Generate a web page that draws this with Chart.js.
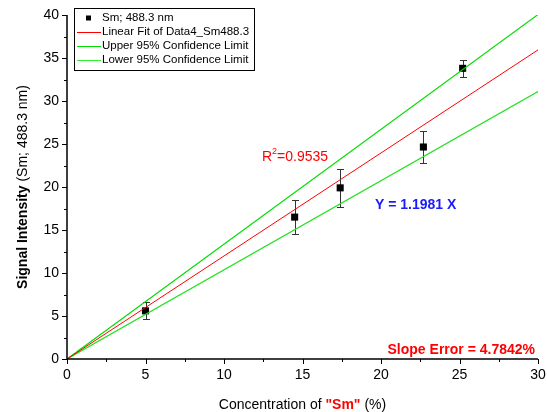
<!DOCTYPE html>
<html>
<head>
<meta charset="utf-8">
<script src="https://cdn.jsdelivr.net/npm/chart.js@4/dist/chart.umd.min.js"></script>
<style>
  html, body { margin: 0; padding: 0; background: #fff; }
  #wrap { width: 547px; height: 412px; }
</style>
</head>
<body>
<div id="wrap"><canvas id="chart" width="547" height="412"></canvas></div>
<script>
// ==========================
// DATA
// ==========================

const concX = [5.0, 14.5, 17.4, 22.7, 25.2];
const signalY = [5.6, 16.5, 19.9, 24.65, 33.8];
const signalErr = [1.0, 2.0, 2.2, 1.9, 1.0];

const lineX = [0, 30];
const fitY = [0, 35.94];
const upperY = [0, 40.05];
const lowerY = [0, 31.1];

const xTicks = [0, 5, 10, 15, 20, 25, 30];
const yTicks = [0, 5, 10, 15, 20, 25, 30, 35, 40];

const legendLabels = [
  "Sm; 488.3 nm",
  "Linear Fit of Data4_Sm488.3",
  "Upper 95% Confidence Limit",
  "Lower 95% Confidence Limit"
];

const FONT = "'Liberation Sans', Arial, sans-serif";

function pairs(xs, ys){
  const out = [];
  for(let i = 0; i < xs.length; i++){
    out.push({ x: xs[i], y: ys[i] });
  }
  return out;
}

// ==========================
// DRAWING PLUGIN
// error bars, minor ticks, titles, notes, legend
// ==========================

const extras = {
  id: "extras",
  beforeDatasetsDraw(chart){
    const ctx = chart.ctx;
    const xs = chart.scales.x, ys = chart.scales.y;
    ctx.save();
    ctx.strokeStyle = "#333";
    ctx.lineWidth = 1;
    for(let i = 0; i < concX.length; i++){
      const px = Math.round(xs.getPixelForValue(concX[i])) + 0.5;
      const top = Math.round(ys.getPixelForValue(signalY[i] + signalErr[i])) + 0.5;
      const bot = Math.round(ys.getPixelForValue(signalY[i] - signalErr[i])) + 0.5;
      ctx.beginPath();
      ctx.moveTo(px, top); ctx.lineTo(px, bot);
      ctx.moveTo(px - 3.5, top); ctx.lineTo(px + 3.5, top);
      ctx.moveTo(px - 3.5, bot); ctx.lineTo(px + 3.5, bot);
      ctx.stroke();
    }
    ctx.restore();
  },
  afterDraw(chart){
    const ctx = chart.ctx;
    const xs = chart.scales.x, ys = chart.scales.y;
    const area = chart.chartArea;
    ctx.save();

    // axes lines + ticks
    ctx.strokeStyle = "#000";
    ctx.lineWidth = 1.5;
    ctx.beginPath();
    ctx.moveTo(area.left, area.top);
    ctx.lineTo(area.left, area.bottom);
    ctx.lineTo(area.right, area.bottom);
    ctx.stroke();
    ctx.lineWidth = 1;
    for(let v = 0; v <= 30; v += 2.5){
      const px = Math.round(xs.getPixelForValue(v)) + 0.5;
      const len = (v % 5 === 0) ? 5 : 3;
      ctx.beginPath();
      ctx.moveTo(px, area.bottom); ctx.lineTo(px, area.bottom + len);
      ctx.stroke();
    }
    for(let v = 0; v <= 40; v += 2.5){
      const py = Math.round(ys.getPixelForValue(v)) + 0.5;
      const len = (v % 5 === 0) ? 5 : 3;
      ctx.beginPath();
      ctx.moveTo(area.left, py); ctx.lineTo(area.left - len, py);
      ctx.stroke();
    }

    // tick labels
    ctx.fillStyle = "#000";
    ctx.font = "14px " + FONT;
    ctx.textAlign = "center";
    ctx.textBaseline = "top";
    xTicks.forEach(function(v){
      ctx.fillText(String(v), xs.getPixelForValue(v), area.bottom + 9);
    });
    ctx.textAlign = "right";
    ctx.textBaseline = "middle";
    yTicks.forEach(function(v){
      ctx.fillText(String(v), area.left - 8, ys.getPixelForValue(v));
    });

    // x title: Concentration of "Sm" (%)
    const p1 = "Concentration of ", p2 = "\"Sm\"", p3 = " (%)";
    ctx.textBaseline = "alphabetic";
    ctx.textAlign = "left";
    ctx.font = "14px " + FONT;
    const w1 = ctx.measureText(p1).width, w3 = ctx.measureText(p3).width;
    ctx.font = "bold 14px " + FONT;
    const w2 = ctx.measureText(p2).width;
    let tx = (area.left + area.right) / 2 - (w1 + w2 + w3) / 2;
    const ty = 409;
    ctx.font = "14px " + FONT; ctx.fillStyle = "#000";
    ctx.fillText(p1, tx, ty); tx += w1;
    ctx.font = "bold 14px " + FONT; ctx.fillStyle = "#ff0000";
    ctx.fillText(p2, tx, ty); tx += w2;
    ctx.font = "14px " + FONT; ctx.fillStyle = "#000";
    ctx.fillText(p3, tx, ty);

    // y title: Signal Intensity (Sm; 488.3 nm)
    const q1 = "Signal Intensity", q2 = " (Sm; 488.3 nm)";
    ctx.save();
    ctx.translate(27, (area.top + area.bottom) / 2);
    ctx.rotate(-Math.PI / 2);
    ctx.font = "bold 14px " + FONT;
    const v1 = ctx.measureText(q1).width;
    ctx.font = "14px " + FONT;
    const v2 = ctx.measureText(q2).width;
    let sx = -(v1 + v2) / 2;
    ctx.fillStyle = "#000";
    ctx.font = "bold 14px " + FONT;
    ctx.fillText(q1, sx, 0); sx += v1;
    ctx.font = "14px " + FONT;
    ctx.fillText(q2, sx, 0);
    ctx.restore();

    // annotations
    ctx.fillStyle = "#ff0000";
    ctx.font = "14px " + FONT;
    ctx.textAlign = "left";
    ctx.fillText("R", 262, 161);
    let rw = ctx.measureText("R").width;
    ctx.font = "9px " + FONT;
    ctx.fillText("2", 262 + rw, 154);
    let sw = ctx.measureText("2").width;
    ctx.font = "14px " + FONT;
    ctx.fillText("=0.9535", 262 + rw + sw, 161);

    ctx.fillStyle = "#1a1aff";
    ctx.font = "bold 14px " + FONT;
    ctx.fillText("Y = 1.1981 X", 375, 209);

    ctx.fillStyle = "#ff0000";
    ctx.textAlign = "right";
    ctx.fillText("Slope Error = 4.7842%", 535, 354);

    // legend box
    const lx = 74, ly = 8, lw = 180, lh = 62;
    ctx.fillStyle = "#fff";
    ctx.fillRect(lx, ly, lw, lh);
    ctx.strokeStyle = "#000";
    ctx.lineWidth = 1;
    ctx.strokeRect(lx + 0.5, ly + 0.5, lw, lh);
    const colors = [null, "#ff0000", "#00dd00", "#33ee33"];
    ctx.font = "11.5px " + FONT;
    ctx.textAlign = "left";
    ctx.textBaseline = "middle";
    for(let i = 0; i < legendLabels.length; i++){
      const rowY = ly + 10 + i * 14;
      if(i === 0){
        ctx.fillStyle = "#000";
        ctx.fillRect(lx + 12, rowY - 2.5, 5, 5);
      } else {
        ctx.strokeStyle = colors[i];
        ctx.beginPath();
        ctx.moveTo(lx + 3, rowY + 0.5); ctx.lineTo(lx + 27, rowY + 0.5);
        ctx.stroke();
      }
      ctx.fillStyle = "#000";
      ctx.fillText(legendLabels[i], lx + 28, rowY);
    }

    ctx.restore();
  }
};

// ==========================
// CHART
// ==========================

const chart = new Chart(document.getElementById("chart"), {
  type: "scatter",
  data: {
    datasets: [
      {
        label: legendLabels[1],
        type: "line",
        data: pairs(lineX, fitY),
        borderColor: "#ff0000",
        borderWidth: 1,
        pointRadius: 0,
        fill: false
      },
      {
        label: legendLabels[2],
        type: "line",
        data: pairs(lineX, upperY),
        borderColor: "#00dd00",
        borderWidth: 1.2,
        pointRadius: 0,
        fill: false
      },
      {
        label: legendLabels[3],
        type: "line",
        data: pairs(lineX, lowerY),
        borderColor: "#22e022",
        borderWidth: 1.2,
        pointRadius: 0,
        fill: false
      },
      {
        label: legendLabels[0],
        data: pairs(concX, signalY),
        pointStyle: "rect",
        pointRadius: 5,
        backgroundColor: "#000",
        borderColor: "#000",
        borderWidth: 0
      }
    ]
  },
  options: {
    responsive: false,
    animation: false,
    layout: { padding: { top: 15, right: 9, left: 0, bottom: 0 } },
    plugins: {
      legend: { display: false },
      tooltip: { enabled: false }
    },
    scales: {
      x: {
        type: "linear",
        min: 0, max: 30,
        grid: { display: false },
        border: { display: false },
        ticks: { display: false },
        afterFit(scale){ scale.height = 53; }
      },
      y: {
        type: "linear",
        min: 0, max: 40,
        grid: { display: false },
        border: { display: false },
        ticks: { display: false },
        afterFit(scale){ scale.width = 67; }
      }
    }
  },
  plugins: [extras]
});
</script>
</body>
</html>
